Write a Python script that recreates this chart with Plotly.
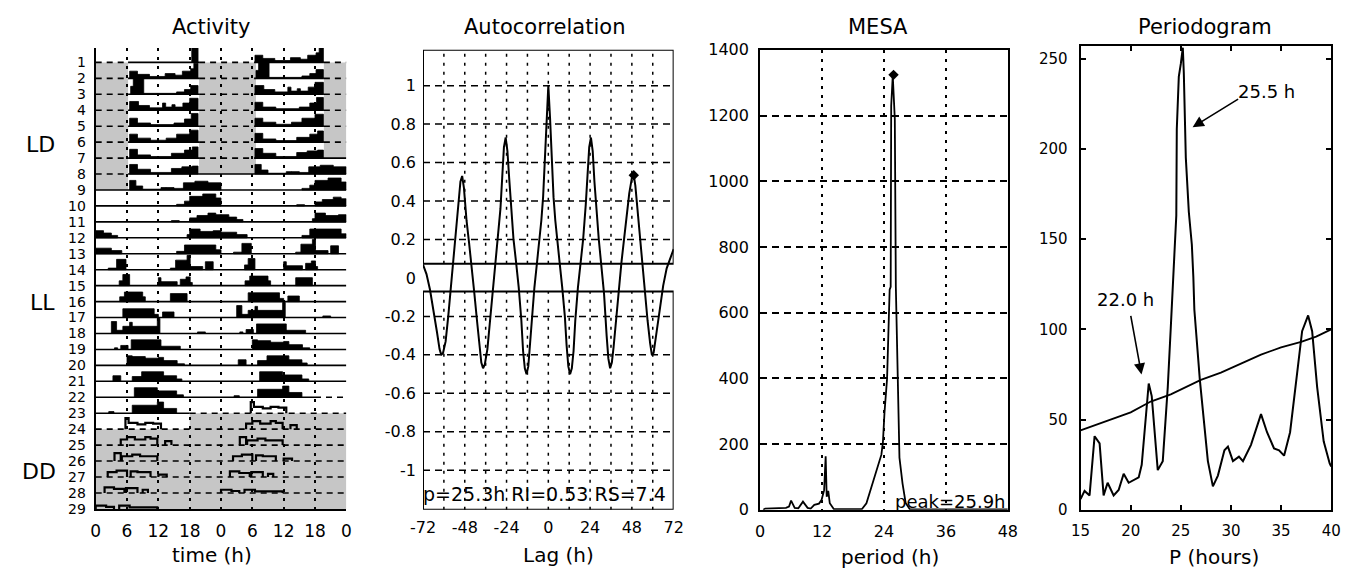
import plotly.graph_objects as go

# target picture is 1360x581; the page adds an 8px body margin, so the figure is 16px smaller
PAGE_W, PAGE_H = 1360, 581
OFF = 8
W, H = PAGE_W - 2 * OFF, PAGE_H - 2 * OFF
FONT = "DejaVu Sans"

# ---------------- Activity (double-plotted actogram) ----------------
# activity bouts per day: (start hour, end hour, relative height of the bar)
day01 = [(18.4, 19.6, 1.0)]
day02 = [(6.5, 8.0, 0.45), (8.0, 10.3, 0.25), (10.3, 13.3, 0.12), (13.3, 15.2, 0.3), (15.2, 16.6, 0.2),
         (16.6, 18.2, 0.45), (18.2, 18.8, 0.6), (18.8, 19.6, 0.95)]
day03 = [(6.7, 7.2, 0.5), (7.2, 9.2, 1.0), (9.2, 15.5, 0.06), (15.5, 17.0, 0.15), (17.0, 18.2, 0.3), (18.2, 19.6, 0.55)]
day04 = [(6.5, 8.2, 0.55), (8.2, 10.3, 0.3), (10.3, 12.8, 0.15), (12.8, 13.4, 0.45), (13.4, 14.6, 0.2),
         (14.6, 15.2, 0.35), (15.2, 16.7, 0.2), (16.7, 18.0, 0.45), (18.0, 19.6, 0.75)]
day05 = [(6.5, 8.0, 0.5), (8.0, 10.5, 0.2), (10.5, 15.0, 0.1), (15.0, 17.0, 0.2), (17.0, 18.3, 0.45), (18.3, 19.6, 0.8)]
day06 = [(6.5, 8.0, 0.5), (8.0, 10.5, 0.25), (10.5, 13.5, 0.12), (13.5, 15.5, 0.25), (15.5, 18.0, 0.5), (18.0, 19.6, 0.75)]
day07 = [(6.5, 8.0, 0.55), (8.0, 10.5, 0.2), (10.5, 14.5, 0.1), (14.5, 17.0, 0.3), (17.0, 18.5, 0.5), (18.5, 19.6, 0.7)]
day08 = [(6.5, 8.0, 0.6), (8.0, 10.5, 0.3), (10.5, 14.5, 0.1), (14.5, 16.5, 0.35), (16.5, 18.5, 0.45), (18.5, 19.6, 0.5)]
day09 = [(6.5, 7.7, 0.6), (7.7, 9.0, 0.25), (9.0, 12.5, 0.05), (12.5, 13.5, 0.15), (13.5, 15.0, 0.15),
         (15.0, 16.8, 0.1), (16.8, 19.0, 0.45), (19.0, 21.5, 0.55), (21.5, 24.0, 0.45)]
day10 = [(15.5, 17.0, 0.1), (17.0, 18.0, 0.3), (18.0, 20.5, 0.6), (20.5, 23.0, 0.75), (23.0, 24.0, 0.5)]
day11 = [(14.5, 16.0, 0.08), (18.0, 19.4, 0.25), (19.4, 21.5, 0.4), (21.5, 23.0, 0.55), (23.0, 24.0, 0.45)]
day12 = [(0.0, 1.5, 0.45), (1.5, 3.0, 0.3), (3.0, 4.2, 0.15), (17.5, 18.0, 0.2), (18.0, 20.0, 0.55),
         (20.0, 22.5, 0.4), (22.5, 24.0, 0.45)]
day13 = [(0.0, 3.0, 0.35), (3.0, 5.0, 0.2), (15.5, 17.0, 0.15), (17.0, 23.0, 0.55), (23.0, 24.0, 0.25)]
day14 = [(2.4, 4.0, 0.1), (4.0, 5.8, 0.65), (14.3, 15.3, 0.1), (15.3, 17.5, 0.6), (17.5, 18.1, 0.9),
         (18.1, 20.5, 0.2), (21.0, 22.5, 0.5)]
day15 = [(4.5, 5.2, 0.3), (5.2, 6.5, 0.7), (12.0, 12.5, 0.5), (12.5, 15.6, 0.25), (16.2, 17.3, 0.4),
         (17.3, 18.1, 0.55), (18.1, 18.5, 0.2)]
day16 = [(4.6, 5.5, 0.3), (5.5, 9.0, 0.6), (9.0, 9.5, 0.3), (14.3, 17.5, 0.5)]
day17 = [(5.2, 11.2, 0.55), (11.2, 12.0, 0.2), (12.8, 15.0, 0.35)]
day18 = [(3.0, 4.0, 0.75), (4.0, 5.2, 0.2), (5.2, 6.5, 0.45), (6.5, 7.0, 0.7), (7.0, 11.8, 0.45),
         (11.8, 12.3, 0.95), (19.5, 21.0, 0.1)]
day19 = [(3.6, 4.2, 0.1), (4.8, 6.2, 0.25), (6.8, 12.5, 0.6), (12.5, 16.2, 0.2)]
day20 = [(6.0, 7.0, 0.6), (7.0, 9.5, 0.55), (9.5, 12.0, 0.45), (12.0, 13.0, 0.5), (13.0, 15.6, 0.3), (15.6, 17.0, 0.1)]
day21 = [(3.3, 4.8, 0.35), (7.0, 8.8, 0.3), (8.8, 13.0, 0.6), (13.0, 15.5, 0.35), (15.5, 16.5, 0.15)]
day22 = [(7.4, 11.8, 0.6), (11.8, 15.5, 0.4), (15.5, 16.8, 0.15)]
day23 = [(2.5, 3.5, 0.1), (7.0, 11.8, 0.5), (11.8, 13.0, 0.7), (13.0, 15.5, 0.3)]
day24 = [(5.7, 6.3, 0.7), (6.3, 8.0, 0.4), (8.0, 9.5, 0.3), (9.5, 11.0, 0.4), (11.0, 12.5, 0.35)]
day25 = [(4.8, 6.0, 0.35), (6.0, 7.5, 0.5), (7.5, 9.5, 0.35), (9.5, 10.5, 0.5), (10.5, 11.8, 0.4), (13.3, 14.5, 0.25)]
day26 = [(3.6, 4.8, 0.5), (5.0, 7.0, 0.3), (7.0, 8.5, 0.4), (8.5, 11.8, 0.3)]
day27 = [(2.3, 4.0, 0.3), (4.0, 6.0, 0.4), (6.7, 8.0, 0.35), (8.0, 10.5, 0.3), (12.0, 13.6, 0.15)]
day28 = [(1.7, 3.5, 0.35), (3.5, 5.5, 0.25), (5.8, 8.0, 0.3), (9.0, 10.0, 0.2)]
day29 = [(0.0, 2.0, 0.2), (2.0, 3.5, 0.12), (4.5, 6.5, 0.2), (6.5, 11.8, 0.1)]
day30 = []
days = [day01, day02, day03, day04, day05, day06, day07, day08, day09, day10,
        day11, day12, day13, day14, day15, day16, day17, day18, day19, day20,
        day21, day22, day23, day24, day25, day26, day27, day28, day29, day30]
n_rows = 29
first_dd_day = 24
row_labels = [str(i) for i in range(1, n_rows + 1)]
time_ticks = [0, 6, 12, 18, 24, 30, 36, 42, 48]
time_ticktext = ["0", "6", "12", "18", "0", "6", "12", "18", "0"]
# shaded (dark) blocks: (first row, last row, start hour, end hour)
gray_regions = [(2, 9, 0.0, 6.2), (2, 8, 19.8, 30.7), (2, 7, 43.7, 48.0),
                (24, 29, 18.0, 48.0), (25, 29, 0.0, 18.0)]
dashed_extra = [(22, 42.0, 48.0)]
phase_labels = ["LD", "LL", "DD"]

# ---------------- Autocorrelation ----------------
acf_lag = [-72, -70, -68, -66, -64, -62.5, -61.5, -60.5, -59, -57.5, -56, -54.5, -53, -51.5, -50.5, -49.5,
           -48.5, -47, -45.5, -44, -42.5, -41, -39.5, -38.5, -37.5, -36.5, -35, -33.5, -32, -30.5, -29,
           -27.5, -26.5, -25.5, -24.5, -23.5, -22.5, -21.5, -20, -18.5, -17, -15.5, -14.5, -13.5, -12.5,
           -11.5, -10.5, -9.5, -8, -6.5, -5, -4, -3, -2, -1, 0,
           1, 2, 3, 4, 5, 6.5, 8, 9.5, 10.5, 11.5, 12.5, 13.5, 14.5, 15.5, 17, 18.5, 20, 21.5, 22.5, 23.5,
           24.5, 25.5, 26.5, 27.5, 29, 30.5, 32, 33.5, 34.5, 35.5, 36.5, 37.5, 39, 40.5, 42, 43.5, 45, 46.5,
           48, 49, 50, 51, 52.5, 54, 55.5, 57, 58.5, 59.5, 60.5, 62, 64, 66, 68, 70, 72]
acf_val = [0.07, 0.02, -0.06, -0.16, -0.28, -0.37, -0.40, -0.39, -0.33, -0.2, -0.06, 0.08, 0.22, 0.4, 0.5, 0.53,
           0.47, 0.3, 0.18, 0.06, -0.08, -0.22, -0.36, -0.44, -0.47, -0.45, -0.37, -0.22, -0.08, 0.06, 0.2,
           0.36, 0.52, 0.68, 0.73, 0.66, 0.52, 0.38, 0.2, 0.08, -0.05, -0.22, -0.38, -0.47, -0.5,
           -0.46, -0.35, -0.2, -0.05, 0.08, 0.2, 0.3, 0.42, 0.6, 0.83, 1.0,
           0.83, 0.6, 0.42, 0.3, 0.2, 0.08, -0.05, -0.2, -0.35, -0.46, -0.5, -0.47, -0.38, -0.22, -0.05, 0.08,
           0.2, 0.38, 0.55, 0.68, 0.73, 0.66, 0.5, 0.36, 0.2, 0.06, -0.08, -0.3, -0.42, -0.47, -0.44, -0.36,
           -0.2, -0.06, 0.08, 0.2, 0.32, 0.44, 0.52, 0.54, 0.48, 0.38, 0.2, 0.06, -0.08, -0.22, -0.34, -0.4,
           -0.39, -0.3, -0.16, -0.04, 0.05, 0.1, 0.15]
acf_mark = (49.1, 0.534)
acf_text = "p=25.3h RI=0.53 RS=7.4"
lag_ticks = [-72, -48, -24, 0, 24, 48, 72]
acf_yticks = [1, 0.8, 0.6, 0.4, 0.2, 0, -0.2, -0.4, -0.6, -0.8, -1]
acf_ytext = ["1", "0.8", "0.6", "0.4", "0.2", "0", "-0.2", "-0.4", "-0.6", "-0.8", "-1"]

# ---------------- MESA ----------------
mesa_p = [0.6, 1.0, 5.0, 5.6, 6.0, 6.7, 7.4, 8.3, 9.2, 9.8, 10.5, 11.4, 11.9, 12.4, 12.7, 12.9, 13.2, 13.5,
          14.3, 19.7, 20.6, 21.6, 22.5, 23.5, 23.8, 24.1, 24.6, 25.1, 25.3, 25.4, 25.7, 26.1, 26.3, 26.7,
          27.0, 27.6, 28.2, 29.0, 36.0, 48.0]
mesa_v = [0, 4, 6, 10, 28, 6, 5, 25, 6, 4, 15, 19, 30, 60, 163, 40, 58, 20,
          2, 2, 20, 70, 114, 168, 207, 296, 399, 670, 679, 1229, 1322, 1190, 679, 345,
          159, 80, 21, 2, 1, 1]
mesa_peak = (25.85, 1324)
mesa_text = "peak=25.9h"

# ---------------- Periodogram ----------------
per_p = [15.0, 15.4, 15.9, 16.4, 16.9, 17.3, 17.7, 18.3, 18.8, 19.3, 19.8, 20.8, 21.1, 21.8, 22.1, 22.7,
         23.2, 23.7, 24.0, 24.2, 24.55, 24.6, 24.8, 25.0, 25.2, 25.3, 25.5, 25.8, 26.1, 26.25, 26.35, 26.9,
         27.7, 28.2, 28.7, 29.35, 29.7, 30.2, 30.8, 31.2, 32.0, 33.0, 33.6, 34.3, 34.8, 35.3, 35.9, 36.6,
         37.1, 37.7, 38.1, 38.6, 39.25, 39.85, 40.0]
per_v = [6, 10.5, 8, 40.8, 36.8, 8, 15, 8, 11, 20, 15, 18, 25, 70, 63, 22,
         27, 68, 101, 124, 163, 211, 240, 247, 256, 242, 195, 165, 147, 129, 111, 72,
         27, 13, 19, 33, 35, 27, 29.5, 27, 36, 53, 43, 34, 33, 30, 43, 75.6,
         99, 107.7, 99, 68, 38, 25.7, 24]
thr_p = [15, 18, 20, 22, 24, 27, 29, 31, 33, 35, 37, 38.5, 40]
thr_v = [44, 50, 54, 60, 64, 72, 76, 81, 86, 90, 93, 96, 100]
peak_labels = ["25.5 h", "22.0 h"]
peak_heads = [(26.18, 212), (21.08, 75)]

titles = ["Activity", "Autocorrelation", "MESA", "Periodogram"]
xtitles = ["time (h)", "Lag (h)", "period (h)", "P (hours)"]


# positions below are written in target-picture pixels and converted to figure fractions
def dom_x(a, b):
    return [(a - OFF) / W, (b - OFF) / W]


def dom_y(top, bottom):
    return [1 - (bottom - OFF) / H, 1 - (top - OFF) / H]


def px(x, y):
    return dict(x=(x - OFF) / W, y=1 - (y - OFF) / H, xref="paper", yref="paper")


fig = go.Figure()
shapes = []
annotations = []

# ---- activity drawing
fill_x, fill_y, out_x, out_y = [], [], [], []
for i in range(1, n_rows + 1):
    b = n_rows - i
    for offset, d in ((0, i), (24, i + 1)):
        bouts = days[d - 1]
        if d >= first_dd_day:
            # outline of contiguous groups of bouts
            groups = []
            for bt in bouts:
                if groups and abs(groups[-1][-1][1] - bt[0]) < 1e-9:
                    groups[-1].append(bt)
                else:
                    groups.append([bt])
            for g in groups:
                xs, ys = [g[0][0] + offset], [b]
                for (t0, t1, lv) in g:
                    xs += [t0 + offset, t1 + offset]
                    ys += [b + lv, b + lv]
                xs += [g[-1][1] + offset, None]
                ys += [b, None]
                out_x += xs
                out_y += ys
        else:
            for (t0, t1, lv) in bouts:
                a0, a1 = t0 + offset, t1 + offset
                fill_x += [a0, a0, a1, a1, a0, None]
                fill_y += [b, b + lv, b + lv, b, b, None]

for (r0, r1, t0, t1) in gray_regions:
    shapes.append(dict(type="rect", xref="x", yref="y", x0=t0, x1=t1, y0=n_rows - r1, y1=n_rows + 1 - r0,
                       fillcolor="#c6c6c6", line=dict(width=0), layer="below"))

sol_x, sol_y, das_x, das_y = [], [], [], []
for i in range(1, n_rows):
    b = n_rows - i
    dark = [(t0, t1) for (r0, r1, t0, t1) in gray_regions if r0 <= i + 1 <= r1]
    dark += [(t0, t1) for (r, t0, t1) in dashed_extra if r == i]
    dark.sort()
    merged = []
    for seg in dark:
        if merged and seg[0] <= merged[-1][1]:
            merged[-1] = (merged[-1][0], max(merged[-1][1], seg[1]))
        else:
            merged.append(seg)
    cur = 0.0
    for (t0, t1) in merged:
        if t0 > cur:
            sol_x += [cur, t0, None]
            sol_y += [b, b, None]
        das_x += [t0, t1, None]
        das_y += [b, b, None]
        cur = t1
    if cur < 48:
        sol_x += [cur, 48, None]
        sol_y += [b, b, None]

fig.add_trace(go.Scatter(x=sol_x, y=sol_y, mode="lines", line=dict(color="black", width=1.6),
                         xaxis="x", yaxis="y", hoverinfo="skip"))
fig.add_trace(go.Scatter(x=das_x, y=das_y, mode="lines", line=dict(color="black", width=1.6, dash="6px,5px"),
                         xaxis="x", yaxis="y", hoverinfo="skip"))
fig.add_trace(go.Scatter(x=fill_x, y=fill_y, mode="lines", fill="toself", fillcolor="black",
                         line=dict(color="black", width=0.8), xaxis="x", yaxis="y", hoverinfo="skip"))
fig.add_trace(go.Scatter(x=out_x, y=out_y, mode="lines", line=dict(color="black", width=2.2),
                         xaxis="x", yaxis="y", hoverinfo="skip"))

# ---- autocorrelation drawing
ACF_TOP, ACF_BOT = 1.186, -1.206
BAND_TOP, BAND_BOT = 0.074, -0.07
for yv in acf_yticks:
    if yv != 0:
        shapes.append(dict(type="line", xref="x2", yref="y2", x0=-72, x1=72, y0=yv, y1=yv,
                           line=dict(color="black", width=1.5, dash="7px,5px"), layer="below"))
for xv in range(-60, 61, 12):
    for (y0, y1) in ((ACF_BOT, BAND_BOT), (BAND_TOP, ACF_TOP)):
        shapes.append(dict(type="line", xref="x2", yref="y2", x0=xv, x1=xv, y0=y0, y1=y1,
                           line=dict(color="black", width=1.5, dash="3px,6px"), layer="below"))
for (y0, y1) in ((BAND_TOP, ACF_TOP), (ACF_BOT, BAND_BOT)):
    shapes.append(dict(type="rect", xref="x2", yref="y2", x0=-72, x1=72, y0=y0, y1=y1,
                       line=dict(color="black", width=2), layer="above"))
fig.add_trace(go.Scatter(x=acf_lag, y=acf_val, mode="lines", line=dict(color="black", width=2),
                         xaxis="x2", yaxis="y2", hoverinfo="skip", cliponaxis=False))
fig.add_trace(go.Scatter(x=[acf_mark[0]], y=[acf_mark[1]], mode="markers",
                         marker=dict(symbol="diamond", size=8, color="black"), xaxis="x2", yaxis="y2"))

# ---- MESA drawing
fig.add_trace(go.Scatter(x=mesa_p, y=mesa_v, mode="lines", line=dict(color="black", width=1.8),
                         xaxis="x3", yaxis="y3", hoverinfo="skip"))
fig.add_trace(go.Scatter(x=[mesa_peak[0]], y=[mesa_peak[1]], mode="markers",
                         marker=dict(symbol="diamond", size=8, color="black"), xaxis="x3", yaxis="y3"))

# ---- Periodogram drawing
fig.add_trace(go.Scatter(x=thr_p, y=thr_v, mode="lines", line=dict(color="black", width=1.8),
                         xaxis="x4", yaxis="y4", hoverinfo="skip"))
fig.add_trace(go.Scatter(x=per_p, y=per_v, mode="lines", line=dict(color="black", width=2),
                         xaxis="x4", yaxis="y4", hoverinfo="skip"))

# ---- annotations
title_pos = [(202, 18), (541, 18), (880, 18), (1213, 18)]
for t, (x, y) in zip(titles, title_pos):
    annotations.append(dict(text=t, showarrow=False, font=dict(size=21, family=FONT, color="black"),
                            xanchor="center", yanchor="middle", **px(x, y)))
xt_pos = [(202, 565), (555, 565), (892, 567), (1222, 567)]
for t, (x, y) in zip(xtitles, xt_pos):
    annotations.append(dict(text=t, showarrow=False, font=dict(size=20, family=FONT, color="black"),
                            xanchor="center", yanchor="middle", **px(x, y)))
for t, (x, y) in zip(phase_labels, [(28, 140), (30, 303), (26, 478)]):
    annotations.append(dict(text=t, showarrow=False, font=dict(size=22, family=FONT, color="black"),
                            xanchor="center", yanchor="middle", **px(x, y)))
annotations.append(dict(text=acf_text, showarrow=False, font=dict(size=19, family=FONT, color="black"),
                        xanchor="center", yanchor="middle", **px(541, 502)))
annotations.append(dict(text=mesa_text, showarrow=False, font=dict(size=18, family=FONT, color="black"),
                        xanchor="right", yanchor="middle", **px(1012, 509)))
for t, (x, y) in zip(peak_labels, [(1275, 85), (1132, 300)]):
    annotations.append(dict(text=t, showarrow=False, font=dict(size=18, family=FONT, color="black"),
                            xanchor="center", yanchor="middle", **px(x, y)))
for (hx, hy), (ax, ay) in zip(peak_heads, [(47, -29), (-11, -60)]):
    annotations.append(dict(text="", x=hx, y=hy, xref="x4", yref="y4", ax=ax, ay=ay, showarrow=True,
                            arrowhead=2, arrowsize=1.4, arrowwidth=1.6, arrowcolor="black", standoff=0))

tickfont = dict(family=FONT, size=16, color="black")
common_off = dict(zeroline=False, showgrid=False, ticks="", fixedrange=True)

fig.update_layout(
    width=W, height=H, autosize=False, margin=dict(l=0, r=0, t=0, b=0, pad=0),
    paper_bgcolor="white", plot_bgcolor="white", showlegend=False,
    font=dict(family=FONT, color="black"),
    shapes=shapes, annotations=annotations,
    xaxis=dict(domain=dom_x(84, 339), range=[0, 48], tickvals=time_ticks, ticktext=time_ticktext,
               showgrid=True, gridcolor="black", griddash="3px,6px", gridwidth=1.5, zeroline=False,
               showline=True, linecolor="black", linewidth=2, ticks="", anchor="y",
               tickfont=dict(family=FONT, size=17, color="black"), ticklabelstandoff=6),
    yaxis=dict(domain=dom_y(40, 517), range=[0, 28.909], tickvals=[n_rows - i for i in range(1, n_rows + 1)],
               ticktext=row_labels, showline=True, linecolor="black", linewidth=2, anchor="x",
               tickfont=dict(family=FONT, size=14, color="black"), ticklabelstandoff=5, **common_off),
    xaxis2=dict(domain=dom_x(417, 672), range=[-72, 72], tickvals=lag_ticks, ticktext=[str(v) for v in lag_ticks],
                showline=False, anchor="y2", tickfont=tickfont, ticklabelstandoff=6, **common_off),
    yaxis2=dict(domain=dom_y(42, 518), range=[ACF_BOT, ACF_TOP], tickvals=acf_yticks, ticktext=acf_ytext,
                showline=False, anchor="x2", tickfont=tickfont, ticklabelstandoff=6, **common_off),
    xaxis3=dict(domain=dom_x(760, 1012), range=[0, 48], tickvals=[0, 12, 24, 36, 48],
                showgrid=True, gridcolor="black", griddash="3px,6px", gridwidth=1.5, zeroline=False,
                showline=True, mirror=True, linecolor="black", linewidth=2, ticks="", anchor="y3",
                tickfont=tickfont, ticklabelstandoff=6),
    yaxis3=dict(domain=dom_y(42, 518), range=[0, 1400], tickvals=list(range(0, 1401, 200)),
                showgrid=True, gridcolor="black", griddash="7px,5px", gridwidth=1.5, zeroline=False,
                showline=True, mirror=True, linecolor="black", linewidth=2, ticks="", anchor="x3",
                tickfont=tickfont, ticklabelstandoff=6),
    xaxis4=dict(domain=dom_x(1086, 1341), range=[15, 40], tickvals=[15, 20, 25, 30, 35, 40],
                showgrid=False, zeroline=False, showline=True, mirror="ticks", linecolor="black", linewidth=2,
                ticks="inside", ticklen=5, tickwidth=1.5, tickcolor="black", anchor="y4",
                tickfont=dict(family=FONT, size=15, color="black"), ticklabelstandoff=6),
    yaxis4=dict(domain=dom_y(38, 518), range=[0, 256.96], tickvals=[0, 50, 100, 150, 200, 250],
                showgrid=False, zeroline=False, showline=True, mirror="ticks", linecolor="black", linewidth=2,
                ticks="inside", ticklen=5, tickwidth=1.5, tickcolor="black", anchor="x4",
                tickfont=dict(family=FONT, size=15, color="black"), ticklabelstandoff=8),
)

fig.write_html("out.html", config={"displayModeBar": False})
